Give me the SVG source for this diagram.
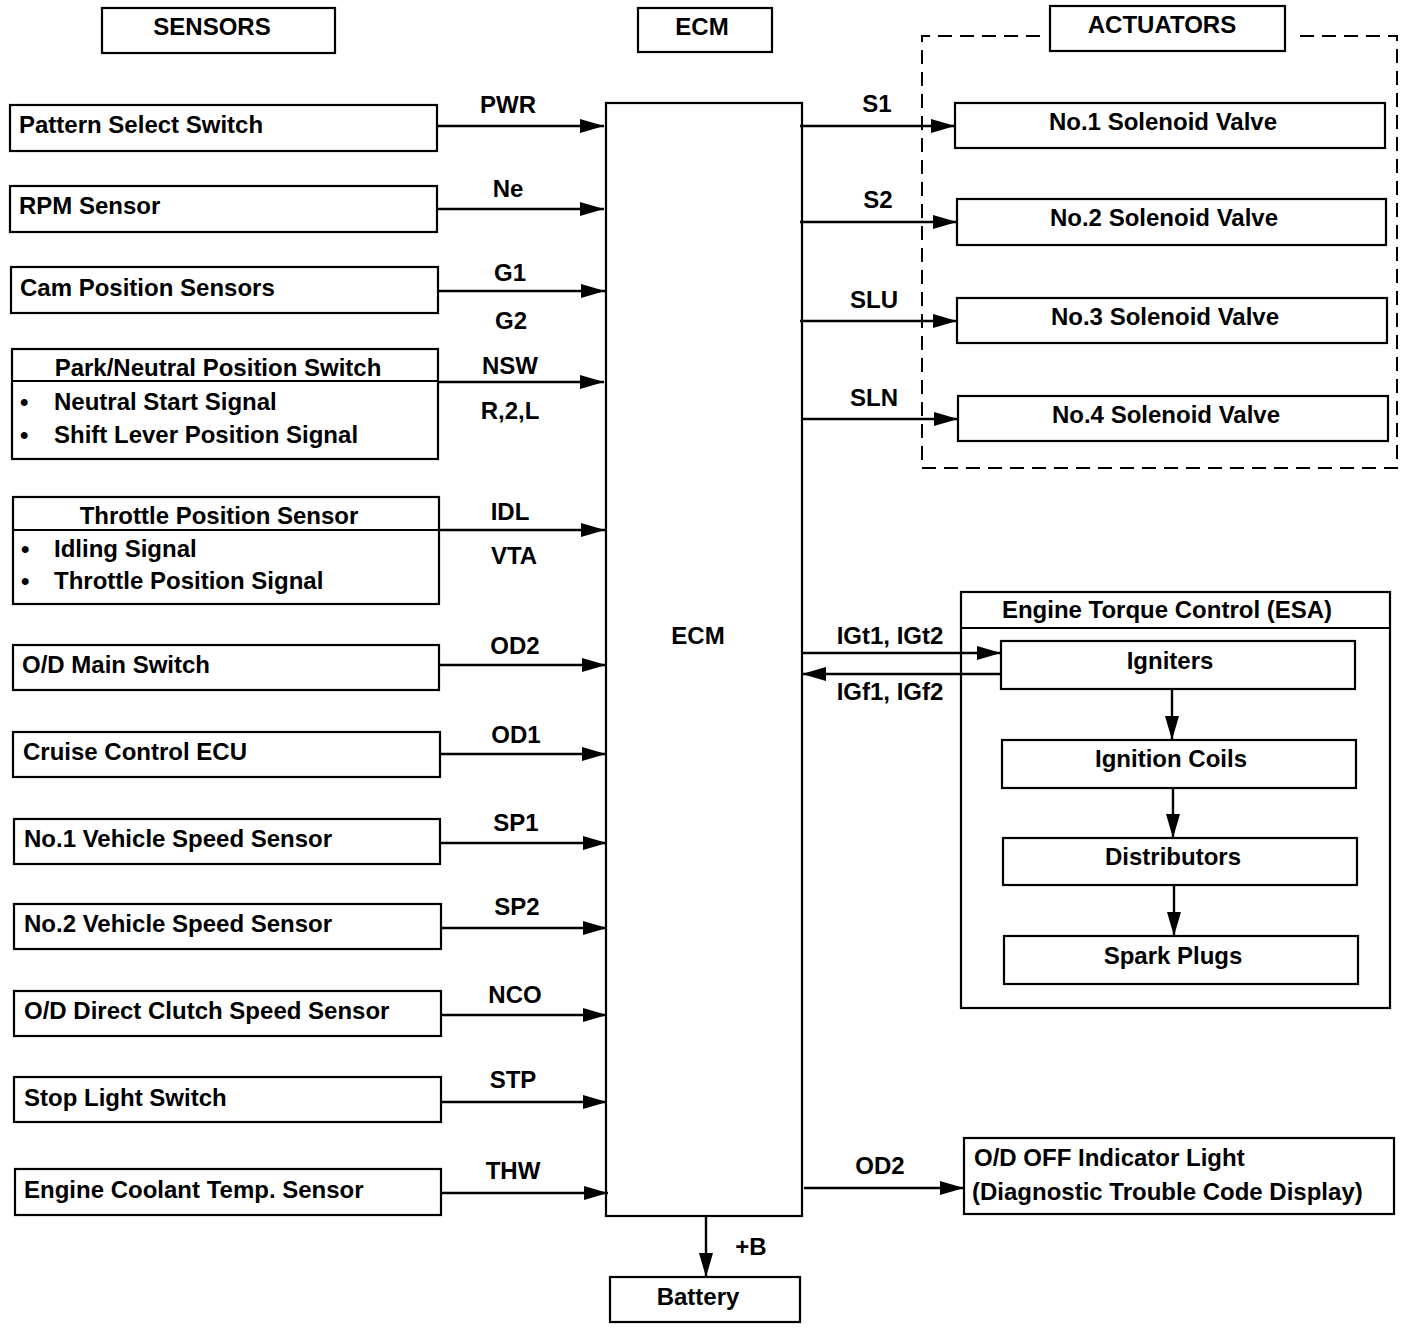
<svg xmlns="http://www.w3.org/2000/svg" width="1408" height="1330" viewBox="0 0 1408 1330">
<style>
rect.b{fill:#fff;stroke:#000;stroke-width:2.2}
line.d{stroke:#000;stroke-width:2}
.c line{stroke:#000;stroke-width:2.4}
text{font-family:"Liberation Sans",Arial,sans-serif;font-weight:bold;font-size:24px;fill:#000}
.m{text-anchor:middle}
.dash{fill:none;stroke:#000;stroke-width:2;stroke-dasharray:14 8}
</style>
<defs>
<marker id="ah" markerUnits="userSpaceOnUse" markerWidth="26" markerHeight="16" refX="24" refY="7" orient="auto">
<path d="M0,0 L24,7 L0,14 z" fill="#000"/>
</marker>
</defs>
<rect width="1408" height="1330" fill="#fff"/>

<g id="hdr-sensors"><rect class="b" x="102" y="8" width="233" height="45"/><text class="m" x="212" y="35">SENSORS</text></g>
<g id="hdr-ecm"><rect class="b" x="638" y="8" width="134" height="44"/><text class="m" x="702" y="35">ECM</text></g>
<g id="actuators-group">
<path class="dash" d="M1040,36 H922 V468 H1397 V36 H1292"/>
<rect class="b" x="1050" y="6" width="235" height="45"/><text class="m" x="1162" y="33">ACTUATORS</text>
</g>

<g id="pattern"><rect class="b" x="10" y="105" width="427" height="46"/><text x="19" y="133">Pattern Select Switch</text></g>
<g id="rpm"><rect class="b" x="10" y="186" width="427" height="46"/><text x="19" y="214">RPM Sensor</text></g>
<g id="cam"><rect class="b" x="11" y="267" width="427" height="46"/><text x="20" y="296">Cam Position Sensors</text></g>
<g id="pnp"><rect class="b" x="12" y="349" width="426" height="110"/><line class="d" x1="12" y1="381" x2="438" y2="381"/>
<text class="m" x="218" y="376">Park/Neutral Position Switch</text>
<text x="20" y="410">•</text><text x="54" y="410">Neutral Start Signal</text>
<text x="20" y="443">•</text><text x="54" y="443">Shift Lever Position Signal</text></g>
<g id="tps"><rect class="b" x="13" y="497" width="426" height="107"/><line class="d" x1="13" y1="530" x2="439" y2="530"/>
<text class="m" x="219" y="524">Throttle Position Sensor</text>
<text x="21" y="557">•</text><text x="54" y="557">Idling Signal</text>
<text x="21" y="589">•</text><text x="54" y="589">Throttle Position Signal</text></g>
<g id="odmain"><rect class="b" x="13" y="645" width="426" height="45"/><text x="22" y="673">O/D Main Switch</text></g>
<g id="cruise"><rect class="b" x="13" y="732" width="427" height="45"/><text x="23" y="760">Cruise Control ECU</text></g>
<g id="vss1"><rect class="b" x="14" y="819" width="426" height="45"/><text x="24" y="847">No.1 Vehicle Speed Sensor</text></g>
<g id="vss2"><rect class="b" x="14" y="904" width="427" height="45"/><text x="24" y="932">No.2 Vehicle Speed Sensor</text></g>
<g id="odclutch"><rect class="b" x="14" y="991" width="427" height="45"/><text x="24" y="1019">O/D Direct Clutch Speed Sensor</text></g>
<g id="stop"><rect class="b" x="14" y="1077" width="427" height="45"/><text x="24" y="1106">Stop Light Switch</text></g>
<g id="coolant"><rect class="b" x="15" y="1169" width="426" height="46"/><text x="24" y="1198">Engine Coolant Temp. Sensor</text></g>

<g id="ecm"><rect class="b" x="606" y="103" width="196" height="1113"/><text class="m" x="698" y="644">ECM</text></g>

<g id="sv1"><rect class="b" x="955" y="103" width="430" height="45"/><text class="m" x="1163" y="130">No.1 Solenoid Valve</text></g>
<g id="sv2"><rect class="b" x="957" y="199" width="429" height="46"/><text class="m" x="1164" y="226">No.2 Solenoid Valve</text></g>
<g id="sv3"><rect class="b" x="957" y="298" width="430" height="45"/><text class="m" x="1165" y="325">No.3 Solenoid Valve</text></g>
<g id="sv4"><rect class="b" x="958" y="396" width="430" height="45"/><text class="m" x="1166" y="423">No.4 Solenoid Valve</text></g>

<g id="esa"><rect class="b" x="961" y="592" width="429" height="416"/><line class="d" x1="961" y1="628" x2="1390" y2="628"/><text class="m" x="1167" y="618">Engine Torque Control (ESA)</text></g>
<g id="igniters"><rect class="b" x="1001" y="641" width="354" height="48"/><text class="m" x="1170" y="669">Igniters</text></g>
<g id="coils"><rect class="b" x="1002" y="740" width="354" height="48"/><text class="m" x="1171" y="767">Ignition Coils</text></g>
<g id="dist"><rect class="b" x="1003" y="838" width="354" height="47"/><text class="m" x="1173" y="865">Distributors</text></g>
<g id="plugs"><rect class="b" x="1004" y="936" width="354" height="48"/><text class="m" x="1173" y="964">Spark Plugs</text></g>

<g id="odoff"><rect class="b" x="964" y="1138" width="430" height="76"/><text x="974" y="1166">O/D OFF Indicator Light</text><text x="972" y="1200">(Diagnostic Trouble Code Display)</text></g>
<g id="battery"><rect class="b" x="610" y="1277" width="190" height="45"/><text class="m" x="698" y="1305">Battery</text></g>

<g id="connectors" class="c">
<line x1="437" y1="126" x2="604" y2="126" marker-end="url(#ah)"/>
<line x1="437" y1="209" x2="604" y2="209" marker-end="url(#ah)"/>
<line x1="438" y1="291" x2="605" y2="291" marker-end="url(#ah)"/>
<line x1="438" y1="382" x2="604" y2="382" marker-end="url(#ah)"/>
<line x1="439" y1="530" x2="605" y2="530" marker-end="url(#ah)"/>
<line x1="439" y1="665" x2="606" y2="665" marker-end="url(#ah)"/>
<line x1="440" y1="754" x2="606" y2="754" marker-end="url(#ah)"/>
<line x1="440" y1="843" x2="607" y2="843" marker-end="url(#ah)"/>
<line x1="441" y1="928" x2="607" y2="928" marker-end="url(#ah)"/>
<line x1="441" y1="1015" x2="607" y2="1015" marker-end="url(#ah)"/>
<line x1="441" y1="1102" x2="607" y2="1102" marker-end="url(#ah)"/>
<line x1="441" y1="1193" x2="608" y2="1193" marker-end="url(#ah)"/>
<line x1="800" y1="126" x2="955" y2="126" marker-end="url(#ah)"/>
<line x1="800" y1="222" x2="957" y2="222" marker-end="url(#ah)"/>
<line x1="800" y1="321" x2="957" y2="321" marker-end="url(#ah)"/>
<line x1="801" y1="419" x2="958" y2="419" marker-end="url(#ah)"/>
<line x1="802" y1="653" x2="1001" y2="653" marker-end="url(#ah)"/>
<line x1="1001" y1="674" x2="802" y2="674" marker-end="url(#ah)"/>
<line x1="1172" y1="689" x2="1172" y2="740" marker-end="url(#ah)"/>
<line x1="1173" y1="788" x2="1173" y2="838" marker-end="url(#ah)"/>
<line x1="1174" y1="885" x2="1174" y2="936" marker-end="url(#ah)"/>
<line x1="804" y1="1188" x2="964" y2="1188" marker-end="url(#ah)"/>
<line x1="706" y1="1216" x2="706" y2="1277" marker-end="url(#ah)"/>
</g>

<g id="labels">
<text class="m" x="508" y="113">PWR</text>
<text class="m" x="508" y="197">Ne</text>
<text class="m" x="510" y="281">G1</text>
<text class="m" x="511" y="329">G2</text>
<text class="m" x="510" y="374">NSW</text>
<text class="m" x="510" y="419">R,2,L</text>
<text class="m" x="510" y="520">IDL</text>
<text class="m" x="514" y="564">VTA</text>
<text class="m" x="515" y="654">OD2</text>
<text class="m" x="516" y="743">OD1</text>
<text class="m" x="516" y="831">SP1</text>
<text class="m" x="517" y="915">SP2</text>
<text class="m" x="515" y="1003">NCO</text>
<text class="m" x="513" y="1088">STP</text>
<text class="m" x="513" y="1179">THW</text>
<text class="m" x="877" y="112">S1</text>
<text class="m" x="878" y="208">S2</text>
<text class="m" x="874" y="308">SLU</text>
<text class="m" x="874" y="406">SLN</text>
<text class="m" x="890" y="644">IGt1, IGt2</text>
<text class="m" x="890" y="700">IGf1, IGf2</text>
<text class="m" x="880" y="1174">OD2</text>
<text class="m" x="751" y="1255">+B</text>
</g>
</svg>
